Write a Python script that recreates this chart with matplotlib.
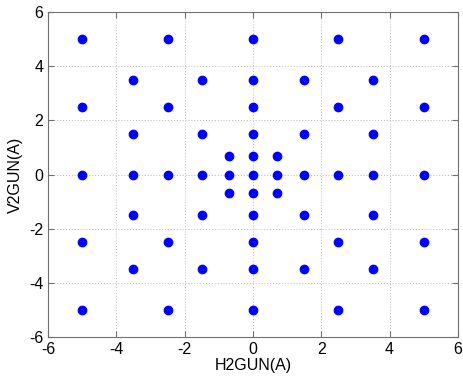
import numpy as np
import matplotlib.pyplot as plt

plt.rcParams['font.family'] = ['Liberation Sans', 'DejaVu Sans']
plt.rcParams['axes.unicode_minus'] = False

# scan points, grouped by row (y value) -> x values
rows_y = [5, 3.5, 2.5, 1.5, 0.7, 0, -0.7, -1.5, -2.5, -3.5, -5]
rows_x = [
	[-5, -2.5, 0, 2.5, 5],
	[-3.5, -1.5, 0, 1.5, 3.5],
	[-5, -2.5, 0, 2.5, 5],
	[-3.5, -1.5, 0, 1.5, 3.5],
	[-0.7, 0, 0.7],
	[-5, -3.5, -2.5, -1.5, -0.7, 0, 0.7, 1.5, 2.5, 3.5, 5],
	[-0.7, 0, 0.7],
	[-3.5, -1.5, 0, 1.5, 3.5],
	[-5, -2.5, 0, 2.5, 5],
	[-3.5, -1.5, 0, 1.5, 3.5],
	[-5, -2.5, 0, 2.5, 5],
]
ticks = [-6, -4, -2, 0, 2, 4, 6]

hgun = []
vgun = []
for y, xs in zip(rows_y, rows_x):
	for x in xs:
		hgun.append(x)
		vgun.append(y)

fig = plt.figure(figsize=(4.63, 3.83), dpi=100)
ax = fig.add_axes([0.1037, 0.12, 0.8853, 0.8487])
ax.plot(hgun, vgun, 'o', color='#0000ff', markersize=6, linestyle='none')
ax.set_xlim(-6, 6)
ax.set_ylim(-6, 6)
ax.set_xticks(ticks)
ax.set_yticks(ticks)
ax.grid(True, linestyle=(0, (1, 2)), color='#b8b8b8', linewidth=0.7)
ax.tick_params(direction='in', top=True, right=True, labelsize=11.5, length=4, color='#707070')
for s in ax.spines.values():
	s.set_color('#707070')
ax.set_xlabel('H2GUN(A)', fontsize=11.5, labelpad=1)
ax.set_ylabel('V2GUN(A)', fontsize=11.5, labelpad=4)
fig.savefig('out.png', dpi=100)
